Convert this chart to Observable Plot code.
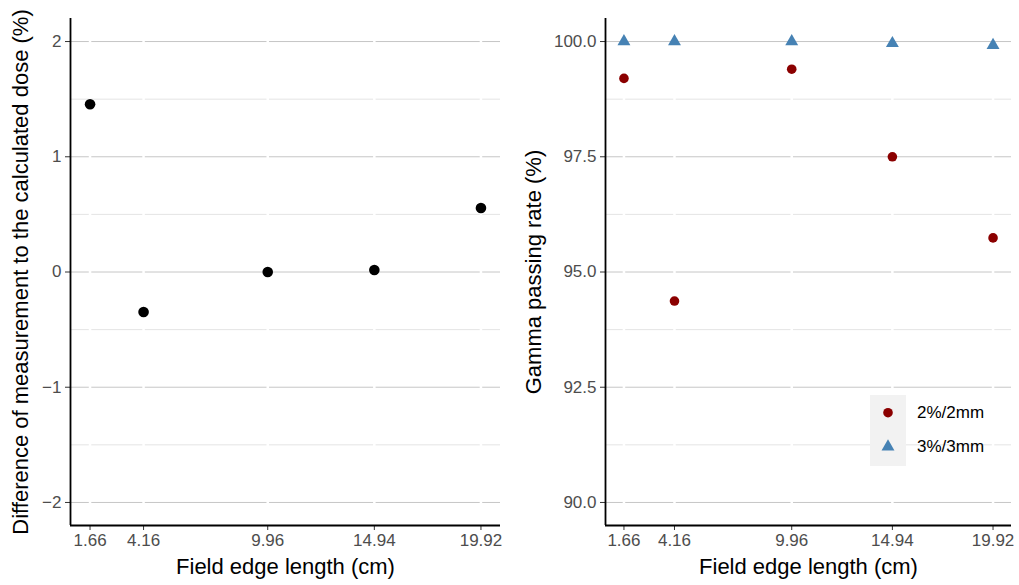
<!DOCTYPE html>
<html><head><meta charset="utf-8">
<script src="https://cdn.jsdelivr.net/npm/d3@7"></script>
<script src="https://cdn.jsdelivr.net/npm/@observablehq/plot@0.6"></script>
<style>
body{margin:0;background:#fff;font-family:"Liberation Sans",Arial,sans-serif;}
#wrap{position:relative;width:1019px;height:585px;display:flex;overflow:hidden;}
#legend{position:absolute;left:870px;top:395px;}
#legend .key{position:absolute;left:0;top:0;width:36px;height:71px;background:#f2f2f2;}
#legend .lab{position:absolute;left:47px;font-size:17px;color:#000;white-space:nowrap;line-height:20px;}
</style></head><body><div id="wrap"></div>
<script>
// ---- data ----
const fieldSizes = [1.66, 4.16, 9.96, 14.94, 19.92];
const doseDiff = [1.456, -0.347, 0.0, 0.017, 0.555];
const gamma2mm = [99.20, 94.37, 99.40, 97.50, 95.74];
const gamma3mm = [100.0, 100.0, 100.0, 99.96, 99.92];
const criteria = ["2%/2mm", "3%/3mm"];
const criteriaColors = ["#8B0000", "#4682B4"];
const criteriaSymbols = ["circle", "triangle"];
const doseTicks = [-2, -1, 0, 1, 2];
const doseMinor = [-1.5, -0.5, 0.5, 1.5];
const gammaTicks = [90, 92.5, 95, 97.5, 100];
const gammaMinor = [91.25, 93.75, 96.25, 98.75];
const xTitle = "Field edge length (cm)";
const yTitleLeft = "Difference of measurement to the calculated dose (%)";
const yTitleRight = "Gamma passing rate (%)";

const xDomain = [0.747, 20.833];
const doseDomain = [-2.2, 2.2];
const gammaDomain = [89.5, 100.5];

const font = '"Liberation Sans", Arial, sans-serif';
const doseRows = fieldSizes.map((x, i) => ({x, y: doseDiff[i]}));
const gammaRows = [
  ...fieldSizes.map((x, i) => ({x, y: gamma2mm[i], c: criteria[0]})),
  ...fieldSizes.map((x, i) => ({x, y: gamma3mm[i], c: criteria[1]}))
];

function panel({width, marginLeft, marginRight, yDomain, major, minor, fmt, yTitle, titleDx, dots}) {
  return Plot.plot({
    width, height: 585,
    marginTop: 18, marginBottom: 60, marginLeft, marginRight,
    style: {fontFamily: font, color: "#4d4d4d", background: "white", overflow: "visible"},
    x: {domain: xDomain},
    y: {domain: yDomain},
    symbol: {domain: criteria, range: criteriaSymbols},
    color: {domain: criteria, range: criteriaColors},
    marks: [
      Plot.ruleY(minor, {stroke: "#e4e4e4", strokeWidth: 1}),
      Plot.ruleY(major, {stroke: "#c6c6c6", strokeWidth: 1}),
      Plot.ruleX(fieldSizes, {stroke: "white", strokeWidth: 2.5}),
      Plot.axisX({ticks: fieldSizes, tickFormat: d => d.toFixed(2), tickSize: 5, tickPadding: 3, fontSize: 17, stroke: "#333", label: null}),
      Plot.axisY({ticks: major, tickFormat: fmt, tickSize: 5, tickPadding: 4, fontSize: 17, stroke: "#333", label: null}),
      Plot.ruleX([xDomain[0]], {stroke: "black", strokeWidth: 1.8}),
      Plot.ruleY([yDomain[0]], {stroke: "black", strokeWidth: 1.8}),
      ...dots,
      Plot.text([xTitle], {text: d => d, frameAnchor: "bottom", dy: 41, fontSize: 22, fill: "black", textAnchor: "middle", lineAnchor: "middle"}),
      Plot.text([yTitle], {text: d => d, frameAnchor: "left", rotate: -90, dx: titleDx, fontSize: 22, fill: "black", textAnchor: "middle", lineAnchor: "middle"})
    ]
  });
}

const left = panel({
  width: 510, marginLeft: 70, marginRight: 10,
  yDomain: doseDomain, major: doseTicks, minor: doseMinor,
  fmt: d => d < 0 ? "\u2212" + Math.abs(d) : String(d),
  yTitle: yTitleLeft, titleDx: -50,
  dots: [Plot.dot(doseRows, {x: "x", y: "y", r: 5.3, fill: "black"})]
});
const right = panel({
  width: 509, marginLeft: 95, marginRight: 8,
  yDomain: gammaDomain, major: gammaTicks, minor: gammaMinor,
  fmt: d => d.toFixed(1),
  yTitle: yTitleRight, titleDx: -72,
  dots: [Plot.dot(gammaRows, {x: "x", y: "y", r: 4.8, fill: "c", symbol: "c"})]
});

const wrap = document.getElementById("wrap");
wrap.appendChild(left);
wrap.appendChild(right);

// legend
const leg = document.createElement("div");
leg.id = "legend";
const key = document.createElement("div");
key.className = "key";
leg.appendChild(key);
const ns = "http://www.w3.org/2000/svg";
const ksvg = document.createElementNS(ns, "svg");
ksvg.setAttribute("width", 36); ksvg.setAttribute("height", 71);
ksvg.style.position = "absolute"; ksvg.style.left = "0"; ksvg.style.top = "0";
criteria.forEach((c, i) => {
  const p = document.createElementNS(ns, "path");
  const sym = criteriaSymbols[i] === "circle" ? d3.symbolCircle : d3.symbolTriangle;
  p.setAttribute("d", d3.symbol(sym, Math.PI * 4.8 * 4.8)());
  p.setAttribute("transform", `translate(18,${17.7 + i * 34})`);
  p.setAttribute("fill", criteriaColors[i]);
  ksvg.appendChild(p);
  const lab = document.createElement("div");
  lab.className = "lab";
  lab.style.top = (7.7 + i * 34) + "px";
  lab.textContent = c;
  leg.appendChild(lab);
});
key.appendChild(ksvg);
wrap.appendChild(leg);
</script>
</body></html>
